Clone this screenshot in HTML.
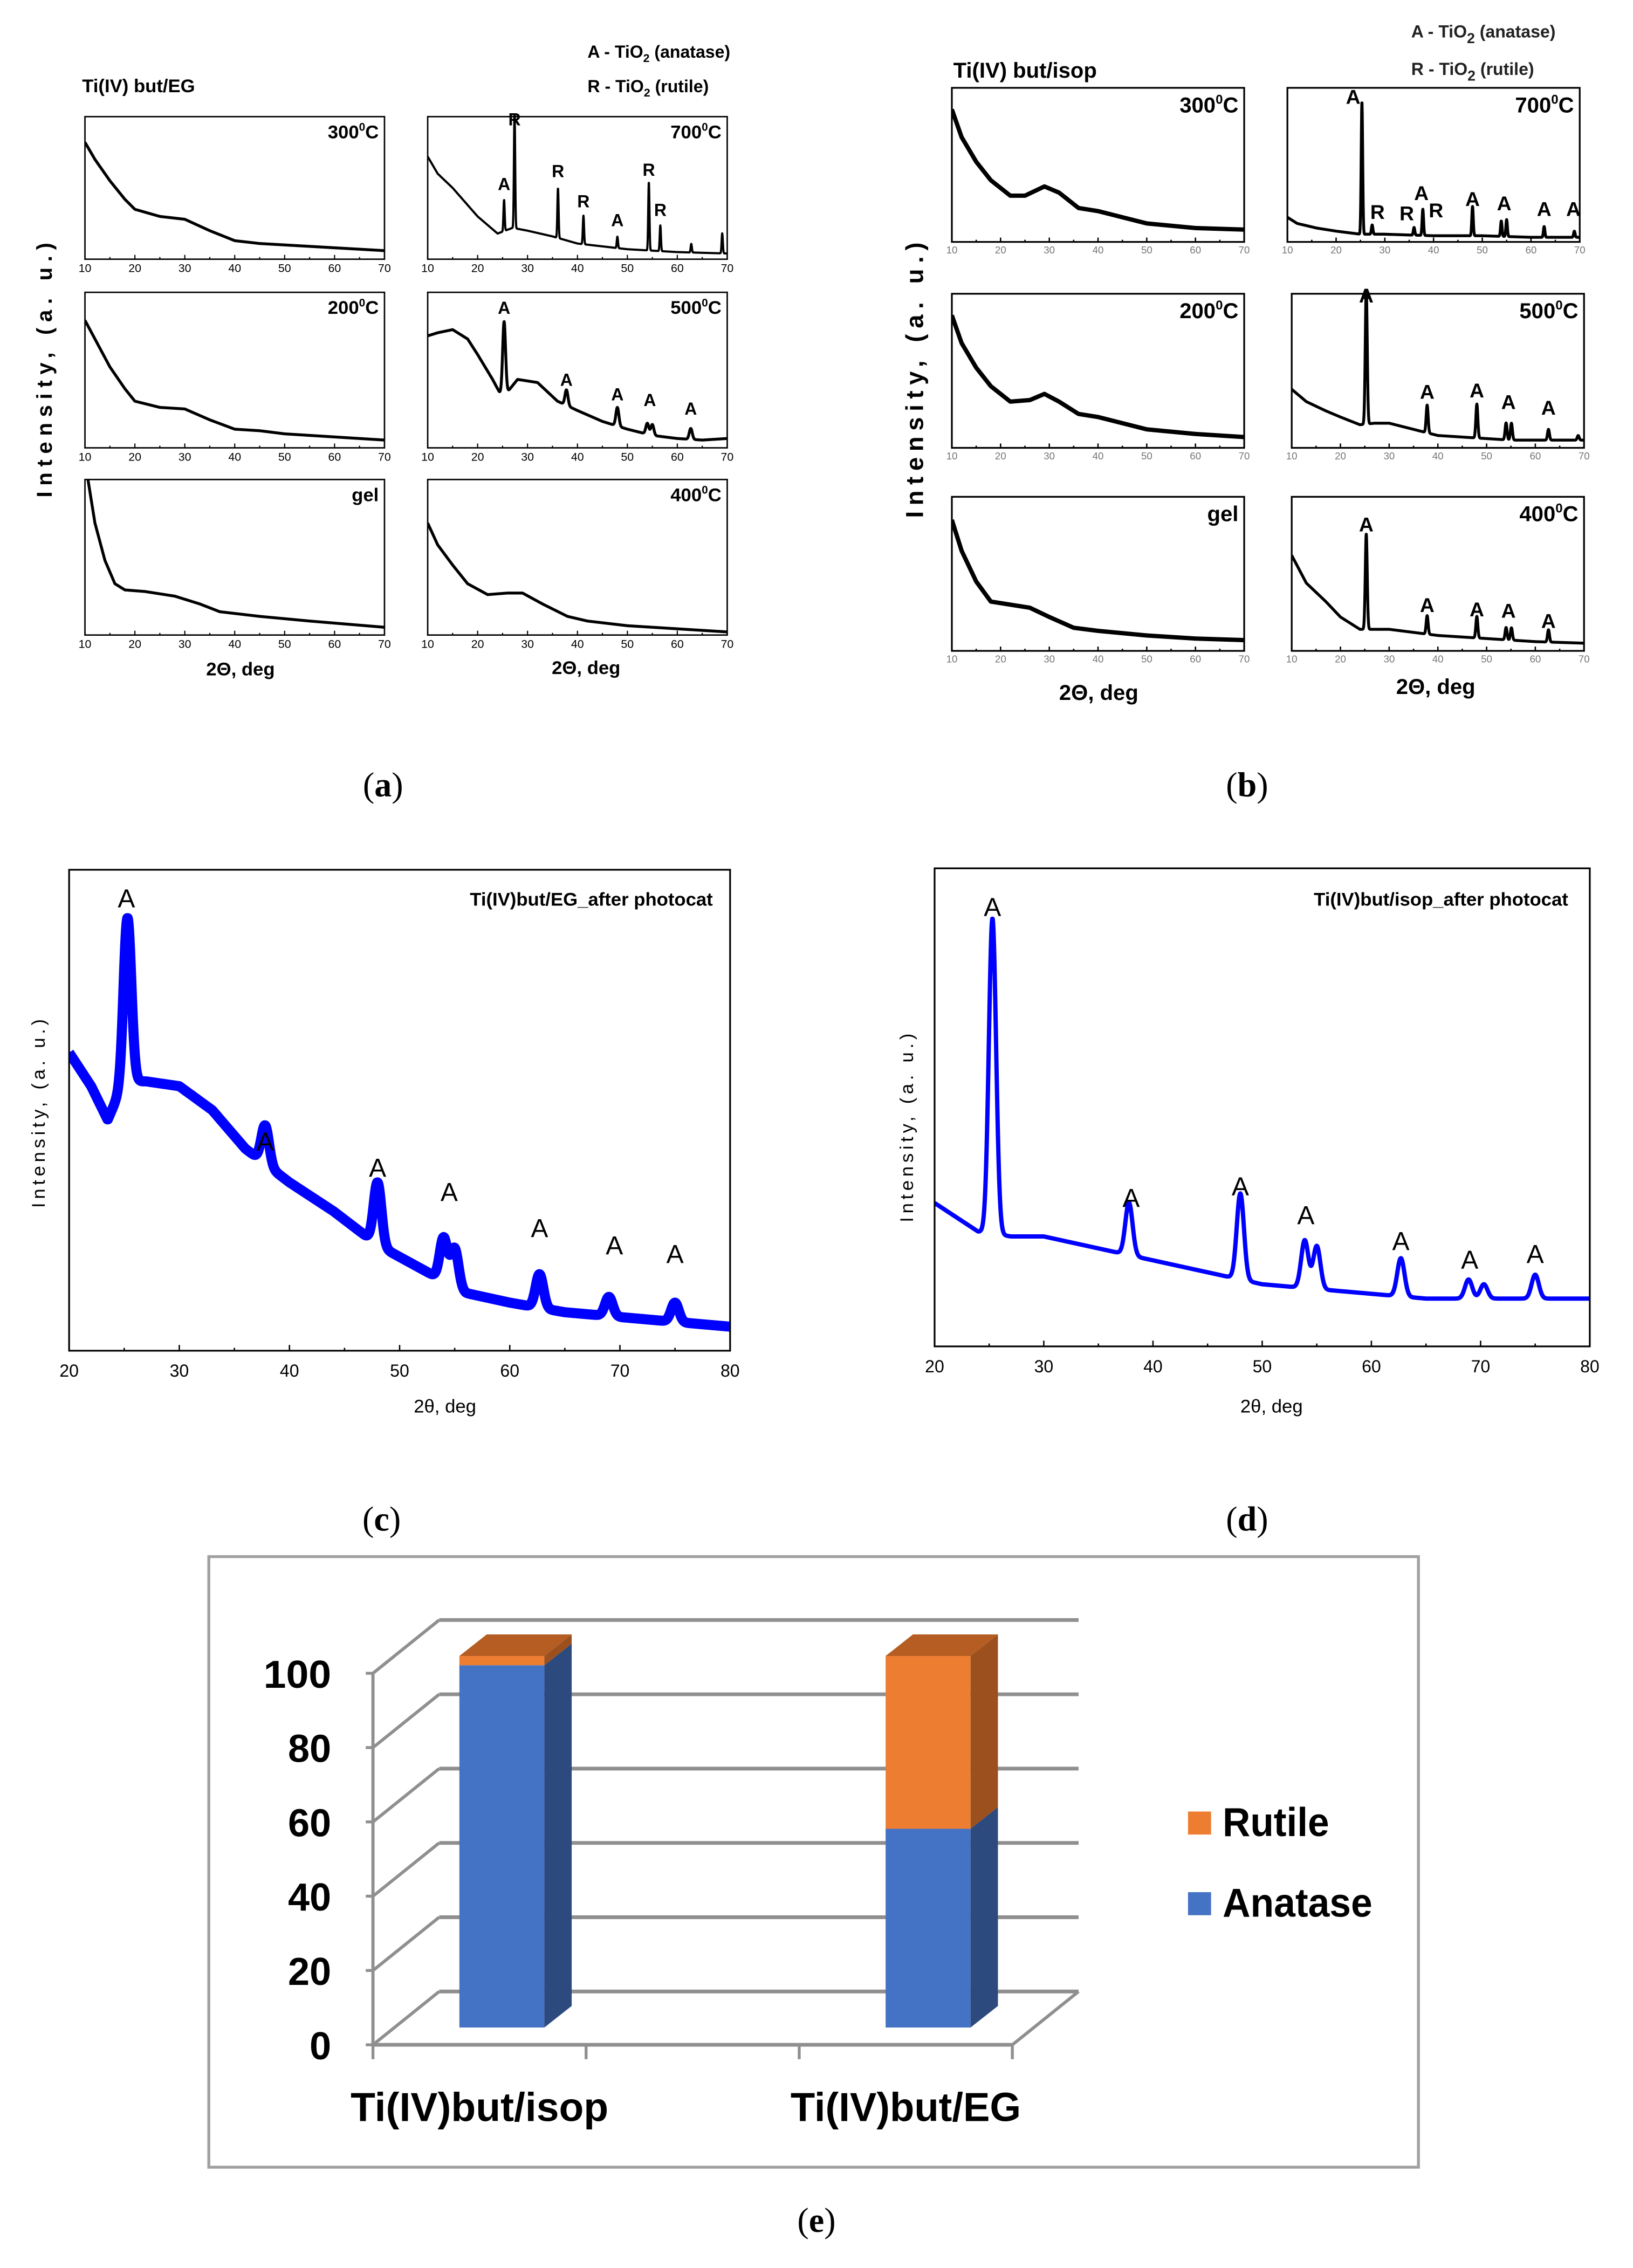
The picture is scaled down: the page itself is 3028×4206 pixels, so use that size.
<!DOCTYPE html>
<html><head><meta charset="utf-8"><style>html,body{margin:0;padding:0;background:#fff}svg{display:block}</style></head>
<body>
<svg id="fig" xmlns="http://www.w3.org/2000/svg" width="3028" height="4206" viewBox="0 0 1134 1575" preserveAspectRatio="none" font-family="Liberation Sans, sans-serif">
<rect x="0" y="0" width="1134" height="1575" fill="#fff"/>
<g id="static">
<text x="57" y="64" font-size="13" font-weight="bold">Ti(IV) but/EG</text>
<text x="408" y="40" font-size="12" font-weight="bold">A - TiO<tspan font-size="8" dy="3">2</tspan><tspan dy="-3"> (anatase)</tspan></text>
<text x="408" y="64" font-size="12" font-weight="bold">R - TiO<tspan font-size="8" dy="3">2</tspan><tspan dy="-3"> (rutile)</tspan></text>
<text transform="translate(36,255) rotate(-90)" text-anchor="middle" font-size="15" font-weight="bold" letter-spacing="4">Intensity, (a. u.)</text>
<text x="167" y="469" text-anchor="middle" font-size="13" font-weight="bold">2Θ, deg</text>
<text x="407" y="468" text-anchor="middle" font-size="13" font-weight="bold">2Θ, deg</text>
<text x="662" y="54" font-size="15" font-weight="bold">Ti(IV) but/isop</text>
<text x="980" y="26" font-size="12" font-weight="bold" fill="#222">A - TiO<tspan font-size="10" dy="4">2</tspan><tspan dy="-4"> (anatase)</tspan></text>
<text x="980" y="52" font-size="12" font-weight="bold" fill="#222">R - TiO<tspan font-size="10" dy="4">2</tspan><tspan dy="-4"> (rutile)</tspan></text>
<text transform="translate(641,262) rotate(-90)" text-anchor="middle" font-size="17" font-weight="bold" letter-spacing="4">Intensity, (a. u.)</text>
<text x="763" y="486" text-anchor="middle" font-size="15" font-weight="bold">2Θ, deg</text>
<text x="997" y="482" text-anchor="middle" font-size="15" font-weight="bold">2Θ, deg</text>
<text x="495" y="629" text-anchor="end" font-size="13" font-weight="bold">Ti(IV)but/EG_after photocat</text>
<text transform="translate(31,772) rotate(-90)" text-anchor="middle" font-size="13" letter-spacing="2.5">Intensity, (a. u.)</text>
<text x="309" y="981" text-anchor="middle" font-size="13">2θ, deg</text>
<text x="1089" y="629" text-anchor="end" font-size="13" font-weight="bold">Ti(IV)but/isop_after photocat</text>
<text transform="translate(634,782) rotate(-90)" text-anchor="middle" font-size="13" letter-spacing="2.5">Intensity, (a. u.)</text>
<text x="883" y="981" text-anchor="middle" font-size="13">2θ, deg</text>
<g font-family="Liberation Serif, serif" font-size="24" text-anchor="middle">
<text x="266" y="553">(<tspan font-weight="bold">a</tspan>)</text>
<text x="866" y="553">(<tspan font-weight="bold">b</tspan>)</text>
<text x="265" y="1063">(<tspan font-weight="bold">c</tspan>)</text>
<text x="866" y="1063">(<tspan font-weight="bold">d</tspan>)</text>
<text x="567" y="1550">(<tspan font-weight="bold">e</tspan>)</text>
</g>
<rect x="145" y="1081" width="840" height="424" fill="none" stroke="#a0a0a0" stroke-width="2"/>
</g>
<g id="plots"></g>
</svg>
<script>
const a300_bx=[10,12,15,18,20,25,30,35,40,45,50,60,70];
const a300_by=[0.82,0.7,0.55,0.42,0.35,0.3,0.28,0.2,0.13,0.11,0.1,0.08,0.06];
const a700_bx=[10,12,15,18,20,24,27,30,35,40,45,50,55,60,70];
const a700_by=[0.72,0.6,0.5,0.38,0.3,0.18,0.22,0.2,0.16,0.11,0.09,0.07,0.06,0.05,0.04];
const a700_pk=[25.3,27.4,36.1,41.2,48,54.3,56.6,62.8,69];
const a700_ph=[0.22,0.82,0.35,0.2,0.08,0.48,0.18,0.06,0.14];
const a200_bx=[10,12,15,18,20,25,30,35,40,45,50,60,70];
const a200_by=[0.82,0.7,0.52,0.38,0.3,0.26,0.25,0.18,0.12,0.11,0.09,0.07,0.05];
const a500_bx=[10,12,15,18,20,23,25,28,32,36,40,45,50,55,60,65,70];
const a500_by=[0.72,0.74,0.76,0.7,0.6,0.44,0.32,0.44,0.42,0.3,0.24,0.17,0.12,0.08,0.06,0.05,0.06];
const a500_pk=[25.3,37.8,48,54,55,62.7];
const a500_ph=[0.48,0.1,0.12,0.07,0.07,0.07];
const agel_bx=[10.6,12,14,16,18,22,28,33,37,45,55,70];
const agel_by=[1.0,0.72,0.48,0.33,0.29,0.28,0.25,0.2,0.15,0.12,0.09,0.05];
const a400_bx=[10,12,15,18,22,26,29,33,38,42,50,60,70];
const a400_by=[0.72,0.58,0.45,0.33,0.26,0.27,0.27,0.2,0.12,0.09,0.06,0.04,0.02];
const b300_bx=[10,12,15,18,22,25,29,32,36,40,45,50,60,70];
const b300_by=[0.86,0.68,0.52,0.4,0.3,0.3,0.36,0.32,0.22,0.2,0.16,0.12,0.09,0.08];
const b700_bx=[10,12,16,20,25,30,40,50,60,70];
const b700_by=[0.16,0.12,0.09,0.07,0.05,0.05,0.04,0.04,0.03,0.03];
const b700_pk=[25.3,27.4,36,37.8,48,53.9,55,62.7,68.9];
const b700_ph=[0.86,0.06,0.05,0.17,0.19,0.1,0.11,0.07,0.04];
const b200_bx=[10,12,15,18,22,26,29,32,36,40,45,50,60,70];
const b200_by=[0.86,0.68,0.52,0.4,0.3,0.31,0.35,0.3,0.22,0.2,0.16,0.12,0.09,0.07];
const b500_bx=[10,13,17,20,24,27,30,35,40,45,50,55,60,70];
const b500_by=[0.38,0.3,0.24,0.2,0.15,0.16,0.16,0.12,0.08,0.07,0.06,0.05,0.05,0.05];
const b500_pk=[25.3,37.8,48,54,55.1,62.7,68.8];
const b500_ph=[0.88,0.18,0.22,0.11,0.11,0.07,0.03];
const bgel_bx=[10,12,15,18,22,26,30,35,40,50,60,70];
const bgel_by=[0.85,0.65,0.45,0.32,0.3,0.28,0.22,0.15,0.13,0.1,0.08,0.07];
const b400_bx=[10,13,17,20,24,27,30,35,40,45,50,60,70];
const b400_by=[0.62,0.44,0.32,0.22,0.14,0.14,0.14,0.12,0.1,0.09,0.08,0.06,0.05];
const b400_pk=[25.3,37.8,48,54,55.1,62.7];
const b400_ph=[0.62,0.12,0.14,0.08,0.08,0.08];
const c_bx=[20,22,23.5,25,27,30,33,36,40,44,48,52,56,60,65,70,75,80];
const c_by=[0.62,0.55,0.48,0.56,0.56,0.55,0.5,0.42,0.35,0.29,0.22,0.17,0.12,0.1,0.08,0.07,0.06,0.05];
const c_pk=[25.3,37.8,48,54,55,62.7,69,75];
const c_ph=[0.34,0.08,0.13,0.09,0.08,0.07,0.04,0.04];
const d_bx=[20,22,24,27,30,34,38,42,46,50,55,60,65,70,75,80];
const d_by=[0.3,0.27,0.24,0.23,0.23,0.21,0.19,0.17,0.15,0.13,0.12,0.11,0.1,0.1,0.1,0.1];
const d_pk=[25.3,37.8,48,53.9,55,62.7,68.9,70.3,75];
const d_ph=[0.66,0.11,0.18,0.1,0.09,0.08,0.04,0.03,0.05];
const xTicksA=[10,20,30,40,50,60,70];
const xTicksC=[20,30,40,50,60,70,80];
// bar chart data
const barCategories=["Ti(IV)but/isop","Ti(IV)but/EG"];
const barSlots=[0,2];
const anataseValues=[97.5,53.5];
const rutileValues=[2.5,46.5];
const yTickValues=[0,20,40,60,80,100];

const NS="http://www.w3.org/2000/svg";
const root=document.getElementById('plots');
function el(tag,attrs,parent){const e=document.createElementNS(NS,tag);for(const k in attrs)e.setAttribute(k,attrs[k]);(parent||root).appendChild(e);return e;}
function baseAt(bx,by,x){if(x<=bx[0])return by[0];for(let i=1;i<bx.length;i++){if(x<=bx[i]){const t=(x-bx[i-1])/(bx[i]-bx[i-1]);return by[i-1]+t*(by[i]-by[i-1]);}}return by[by.length-1];}

function xrd(name,box,xr,bx,by,pk,ph,opt){
  const g=el('g',{});
  
  
  const W=box[2]-box[0],H=box[3]-box[1];
  const sx=v=>box[0]+(v-xr[0])/(xr[1]-xr[0])*W;
  const sy=f=>box[3]-f*H;
  let d='';const x0=Math.max(xr[0],bx[0]);
  for(let x=x0;x<=xr[1]+1e-9;x+=0.04){
    let f=baseAt(bx,by,x);
    for(let i=0;i<pk.length;i++){const z=(x-pk[i])/opt.w;f+=ph[i]*Math.exp(-z*z/2);}
    d+=(d?'L':'M')+sx(x).toFixed(2)+' '+sy(Math.min(f,1.02)).toFixed(2);
  }
  const clip='clip-'+name;
  const cp=el('clipPath',{id:clip},g);el('rect',{x:box[0],y:box[1]-2,width:W,height:H+2},cp);
  const line=el('path',{d:d,fill:'none',stroke:opt.color,'stroke-width':opt.sw,'stroke-linejoin':'round','clip-path':'url(#'+clip+')'},g);
  
  
  const frame=el('rect',{x:box[0],y:box[1],width:W,height:H,fill:'none',stroke:'#000','stroke-width':opt.fw},g);
  
  
  const ticks=opt.ticks;
  const step=(ticks[1]-ticks[0])/2;
  for(let v=ticks[0];v<=ticks[ticks.length-1]+1e-9;v+=step){
    const major=ticks.indexOf(Math.round(v))>=0 && Math.abs(v-Math.round(v))<1e-6;
    el('line',{x1:sx(v),x2:sx(v),y1:box[3],y2:box[3]-(major?opt.tl:opt.tl/2),stroke:'#000','stroke-width':opt.fw*0.8},g);
  }
  ticks.forEach(v=>{const t=el('text',{x:sx(v),y:box[3]+opt.tg,'text-anchor':'middle','font-size':opt.tf,fill:opt.tc},g);t.textContent=v;
    
    });
  if(opt.label){const t=el('text',{x:box[2]-4,y:box[1]+opt.lf+2,'text-anchor':'end','font-size':opt.lf,'font-weight':'bold'},g);
    
    
    if(opt.label==='gel'){t.textContent='gel';}else{t.textContent=opt.label;const s=el('tspan',{'font-size':opt.lf*0.6,dy:-opt.lf*0.4},t);s.textContent='0';const c=el('tspan',{dy:opt.lf*0.4},t);c.textContent='C';}}
  if(opt.marks){opt.marks.forEach(m=>{const t=el('text',{x:sx(m[1]),y:m[2],'text-anchor':'middle','font-size':opt.mf,'font-weight':opt.mw},g);t.textContent=m[0];
    
    });}
}
const A={color:'#000',sw:2,fw:1,w:0.18,ticks:xTicksA,tl:3,tg:9,tf:8,tc:'#000',lf:13,mf:12,mw:'bold'};
const B={color:'#000',sw:3,fw:1.2,w:0.2,ticks:xTicksA,tl:3,tg:8,tf:7,tc:'#777',lf:15,mf:14,mw:'bold'};
function o(base,ext){return Object.assign({},base,ext);}
xrd('a-300',[59,81,267,180],[10,70],a300_bx,a300_by,[],[],o(A,{label:'300'}));
xrd('a-700',[297,81,505,180],[10,70],a700_bx,a700_by,a700_pk,a700_ph,o(A,{label:'700',sw:1.5,w:0.12,marks:[['A',25.3,132],['R',27.4,87],['R',36.1,123],['R',41.2,144],['A',48,157],['R',54.3,122],['R',56.6,150]]}));
xrd('a-200',[59,203,267,311],[10,70],a200_bx,a200_by,[],[],o(A,{label:'200'}));
xrd('a-500',[297,203,505,311],[10,70],a500_bx,a500_by,a500_pk,a500_ph,o(A,{label:'500',w:0.3,marks:[['A',25.3,218],['A',37.8,268],['A',48,278],['A',54.5,282],['A',62.7,288]]}));
xrd('a-gel',[59,333,267,441],[10,70],agel_bx,agel_by,[],[],o(A,{label:'gel'}));
xrd('a-400',[297,333,505,441],[10,70],a400_bx,a400_by,[],[],o(A,{label:'400'}));
xrd('b-300',[661,61,864,168],[10,70],b300_bx,b300_by,[],[],o(B,{label:'300'}));
xrd('b-700',[894,61,1097,168],[10,70],b700_bx,b700_by,b700_pk,b700_ph,o(B,{label:'700',sw:2,w:0.15,marks:[['A',23.5,72],['R',28.5,152],['R',34.5,153],['A',37.5,139],['R',40.5,151],['A',48,143],['A',54.5,146],['A',62.7,150],['A',68.7,150]]}));
xrd('b-200',[661,204,864,311],[10,70],b200_bx,b200_by,[],[],o(B,{label:'200'}));
xrd('b-500',[897,204,1100,311],[10,70],b500_bx,b500_by,b500_pk,b500_ph,o(B,{label:'500',sw:2,w:0.2,marks:[['A',25.3,210],['A',37.8,277],['A',48,276],['A',54.5,284],['A',62.7,288]]}));
xrd('b-gel',[661,345,864,452],[10,70],bgel_bx,bgel_by,[],[],o(B,{label:'gel'}));
xrd('b-400',[897,345,1100,452],[10,70],b400_bx,b400_by,b400_pk,b400_ph,o(B,{label:'400',sw:2,w:0.2,marks:[['A',25.3,369],['A',37.8,425],['A',48,428],['A',54.5,429],['A',62.7,436]]}));
const C={color:'#0000ff',sw:5,fw:1.2,w:0.35,ticks:xTicksC,tl:4,tg:18,tf:12,tc:'#000',lf:0,mf:18,mw:'normal'};
xrd('c-xrd',[48,604,507,938],[20,80],c_bx,c_by,c_pk,c_ph,o(C,{sw:7,marks:[['A',25.2,630],['A',37.8,799],['A',48,817],['A',54.5,834],['A',62.7,859],['A',69.5,871],['A',75,877]]}));
xrd('d-xrd',[649,603,1104,935],[20,80],d_bx,d_by,d_pk,d_ph,o(C,{sw:3,w:0.33,marks:[['A',25.3,636],['A',38,838],['A',48,830],['A',54,850],['A',62.7,868],['A',69,881],['A',75,877]]}));

(function(){
  const g=el('g',{});
  
  
  const fx0=259,fx1=703,fy0=1420,k=2.58,dx=46,dy=-37;
  const fy=v=>fy0-v*k, by=v=>fy0+dy-v*k;
  const grid='#8f8f8f';
  const nf='Liberation Sans, sans-serif';
  yTickValues.forEach(v=>{
    el('line',{x1:fx0,y1:fy(v),x2:fx0+dx,y2:by(v),stroke:grid,'stroke-width':2.2},g);
    const gl=el('line',{x1:fx0+dx,y1:by(v),x2:fx1+dx,y2:by(v),stroke:grid,'stroke-width':2.6},g);
    
    
    el('line',{x1:fx0-5,y1:fy(v),x2:fx0,y2:fy(v),stroke:grid,'stroke-width':2},g);
    const t=el('text',{x:230,y:fy(v)+10,'text-anchor':'end','font-size':27,'font-weight':'bold','font-family':nf},g);
    t.textContent=v;
    if(v===100){t.setAttribute('textLength','47');t.setAttribute('lengthAdjust','spacingAndGlyphs');}
    
    
  });
  el('line',{x1:fx0,y1:fy(0),x2:fx0,y2:fy(100),stroke:grid,'stroke-width':2.2},g);
  el('line',{x1:fx0,y1:fy0,x2:fx1,y2:fy0,stroke:grid,'stroke-width':2.6},g);
  el('line',{x1:fx1,y1:fy0,x2:fx1+dx,y2:fy0+dy,stroke:grid,'stroke-width':2.2},g);
  const nSlots=3, slot=(fx1-fx0)/nSlots;
  for(let i=0;i<=nSlots;i++) el('line',{x1:fx0+i*slot,y1:fy0,x2:fx0+i*slot,y2:fy0+10,stroke:grid,'stroke-width':2},g);
  const bw=59,bdx=19,bdy=-15,bsx=60,bsy=-12;
  const cols={an:['#4472C4','#2C4A7E','#3A63AC'],ru:['#ED7D31','#9C501E','#B55D22']};
  const labW=[179,160];
  barCategories.forEach((c,i)=>{
    const x=fx0+barSlots[i]*slot+bsx, y0=fy0+bsy;
    const yv=v=>y0-v*k;
    const segs=[[0,anataseValues[i],'an'],[anataseValues[i],anataseValues[i]+rutileValues[i],'ru']];
    segs.forEach(s=>{
      const col=cols[s[2]];
      const f=el('rect',{x:x,y:yv(s[1]),width:bw,height:yv(s[0])-yv(s[1]),fill:col[0]},g);
      
      
      el('polygon',{points:[[x+bw,yv(s[0])],[x+bw+bdx,yv(s[0])+bdy],[x+bw+bdx,yv(s[1])+bdy],[x+bw,yv(s[1])]].join(' '),fill:col[1]},g);
    });
    const top=anataseValues[i]+rutileValues[i];
    el('polygon',{points:[[x,yv(top)],[x+bdx,yv(top)+bdy],[x+bw+bdx,yv(top)+bdy],[x+bw,yv(top)]].join(' '),fill:cols.ru[2]},g);
    const t=el('text',{x:fx0+(barSlots[i]+0.5)*slot,y:1473,'text-anchor':'middle','font-size':28,'font-weight':'bold','font-family':nf,textLength:labW[i],lengthAdjust:'spacingAndGlyphs'},g);
    t.textContent=c;
    
    
  });
  const lg=[['Rutile','#ED7D31',1258,74],['Anatase','#4472C4',1314,104]];
  lg.forEach(l=>{
    const r=el('rect',{x:825,y:l[2],width:16,height:16,fill:l[1]},g);
    
    
    const t=el('text',{x:849,y:l[2]+17,'font-size':28,'font-weight':'bold','font-family':nf,textLength:l[3],lengthAdjust:'spacingAndGlyphs'},g);
    t.textContent=l[0];
    
    
  });
})();
</script>
</body></html>
